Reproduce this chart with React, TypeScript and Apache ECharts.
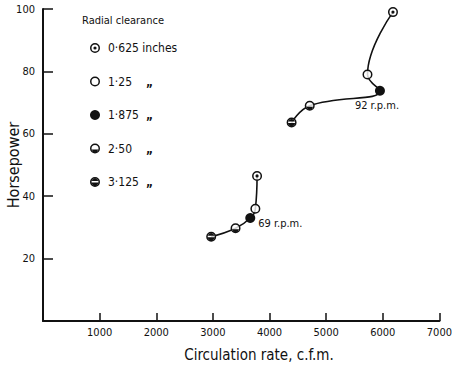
import React, { useEffect, useRef } from "react";
import * as echarts from "echarts";

// Radial clearance of each test, in inches
const clearances = ["0·625", "1·25", "1·875", "2·50", "3·125"];
// Circulation rate (c.f.m.) and horsepower at 92 r.p.m.
const flow92 = [6180, 5730, 5950, 4710, 4390];
const hp92 = [99, 79, 73.8, 69, 63.6];
// Circulation rate (c.f.m.) and horsepower at 69 r.p.m.
const flow69 = [3780, 3750, 3660, 3400, 2970];
const hp69 = [46.5, 36, 33, 29.7, 27];
const speedLabels = ["92 r.p.m.", "69 r.p.m."];

const INK = "#111";
const FONT = '"DejaVu Sans Condensed", "Open Sans", sans-serif';

// Symbol outlines drawn in a 20x20 box (nonzero fill rule)
const OUTER = "M10 0 A10 10 0 1 1 10 20 A10 10 0 1 1 10 0 Z ";
const INNER = "M10 3 A7 7 0 1 0 10 17 A7 7 0 1 0 10 3 Z ";
const DOT = "M10 6.8 A3.2 3.2 0 1 1 10 13.2 A3.2 3.2 0 1 1 10 6.8 Z ";
const LOWER = "M3.29 12 L16.71 12 A7 7 0 0 1 3.29 12 Z ";
const UPPER = "M3.29 8 A7 7 0 0 1 16.71 8 Z ";
const LOWER2 = "M3.07 11 L16.93 11 A7 7 0 0 1 3.07 11 Z ";
const symbols = [
  "path://" + OUTER + INNER + DOT,
  "path://" + OUTER + INNER,
  "circle",
  "path://" + OUTER + INNER + LOWER,
  "path://" + OUTER + INNER + UPPER + LOWER2,
];

export default function App() {
  const ref = useRef<HTMLDivElement>(null);

  useEffect(() => {
    if (!ref.current) return;
    const chart = echarts.init(ref.current, undefined, { renderer: "svg" });

    const pairs = (xs: number[], ys: number[]) => xs.map((x, i) => [x, ys[i]]);

    const clearanceSeries = clearances.map((c, i) => ({
      name: c,
      type: "scatter",
      symbol: symbols[i],
      symbolSize: 10,
      z: 4,
      itemStyle: { color: INK, opacity: 1 },
      data:
        i === 2
          ? [
              {
                value: [flow92[i], hp92[i]],
                label: {
                  show: true,
                  formatter: speedLabels[0],
                  position: "bottom",
                  distance: 4,
                  offset: [-3, 0],
                  color: INK,
                  fontSize: 11,
                  fontFamily: FONT,
                },
              },
              {
                value: [flow69[i], hp69[i]],
                label: {
                  show: true,
                  formatter: speedLabels[1],
                  position: "right",
                  distance: 5,
                  offset: [-2, 5],
                  color: INK,
                  fontSize: 11,
                  fontFamily: FONT,
                },
              },
            ]
          : [
              [flow92[i], hp92[i]],
              [flow69[i], hp69[i]],
            ],
    }));

    const curve = (name: string, xs: number[], ys: number[]) => ({
      name,
      type: "line",
      smooth: 0.45,
      showSymbol: false,
      z: 2,
      lineStyle: { color: INK, width: 1.6 },
      data: pairs(xs, ys),
    });

    chart.setOption({
      animation: false,
      backgroundColor: "#fff",
      grid: { left: 43, right: 9, top: 9, bottom: 46, containLabel: false },
      xAxis: {
        type: "value",
        min: 0,
        max: 7000,
        interval: 1000,
        axisLine: { show: true, lineStyle: { color: INK, width: 2 } },
        axisTick: { show: true, inside: true, length: 8, lineStyle: { color: INK, width: 1.5 } },
        splitLine: { show: false },
        axisLabel: {
          color: INK,
          fontSize: 11,
          fontFamily: FONT,
          margin: 6,
          formatter: (v: number) => (v === 0 ? "" : String(v)),
        },
      },
      yAxis: {
        type: "value",
        min: 0,
        max: 100,
        interval: 20,
        axisLine: { show: true, lineStyle: { color: INK, width: 2 } },
        axisTick: { show: true, inside: true, length: 10, lineStyle: { color: INK, width: 1.5 } },
        splitLine: { show: false },
        axisLabel: {
          color: INK,
          fontSize: 11,
          fontFamily: FONT,
          margin: 8,
          formatter: (v: number) => (v === 0 ? "" : String(v)),
        },
      },
      legend: {
        data: clearances,
        orient: "vertical",
        left: 85,
        top: 37,
        itemWidth: 10,
        itemHeight: 10,
        itemGap: 21.5,
        selectedMode: false,
        formatter: (name: string) =>
          name === clearances[0] ? `{a|${name} inches}` : `{a|${name}}{b|„}`,
        textStyle: {
          color: INK,
          fontFamily: FONT,
          fontSize: 12,
          padding: [0, 0, 0, 3],
          rich: {
            a: { fontSize: 12, fontFamily: FONT, color: INK, width: 38 },
            b: { fontSize: 12, fontFamily: FONT, color: INK, fontWeight: "bold" },
          },
        },
      },
      graphic: [
        {
          type: "text",
          left: 82,
          top: 15,
          style: { text: "Radial clearance", fontSize: 11, fontFamily: FONT, fill: INK },
        },
        {
          type: "text",
          x: 259,
          y: 355,
          style: {
            text: "Circulation rate, c.f.m.",
            fontSize: 15,
            fontFamily: FONT,
            fill: INK,
            align: "center",
            verticalAlign: "middle",
          },
        },
        {
          type: "text",
          x: 13,
          y: 165,
          rotation: Math.PI / 2,
          style: {
            text: "Horsepower",
            fontSize: 16,
            fontFamily: FONT,
            fill: INK,
            align: "center",
            verticalAlign: "middle",
          },
        },
      ],
      series: [
        curve(speedLabels[0], flow92, hp92),
        curve(speedLabels[1], flow69, hp69),
        {
          name: "backing",
          type: "scatter",
          symbol: "circle",
          symbolSize: 9,
          z: 3,
          itemStyle: { color: "#fff" },
          data: [...pairs(flow92, hp92), ...pairs(flow69, hp69)],
        },
        ...clearanceSeries,
      ],
    });

    return () => chart.dispose();
  }, []);

  return (
    <div
      ref={ref}
      style={{ position: "fixed", left: 0, top: 0, width: 455, height: 367 }}
    />
  );
}
